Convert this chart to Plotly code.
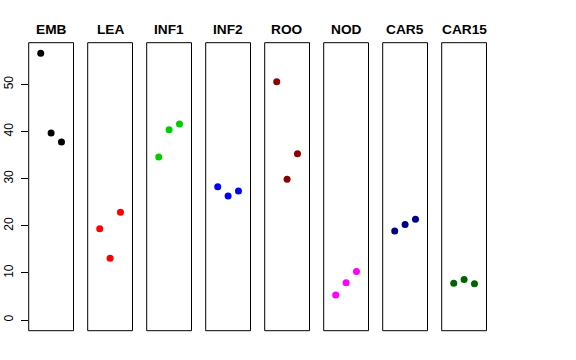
import plotly.graph_objects as go

panels = ["EMB", "LEA", "INF1", "INF2", "ROO", "NOD", "CAR5", "CAR15"]
colors = ["#000000", "#FF0000", "#00CD00", "#0000FF", "#8B0000", "#FF00FF", "#00008B", "#006400"]
positions = [1, 2, 3]
EMB = [56.6, 39.7, 37.8]
LEA = [19.4, 13.1, 22.9]
INF1 = [34.6, 40.4, 41.6]
INF2 = [28.3, 26.3, 27.4]
ROO = [50.6, 29.9, 35.3]
NOD = [5.3, 7.9, 10.3]
CAR5 = [18.9, 20.3, 21.4]
CAR15 = [7.8, 8.6, 7.7]
series = [EMB, LEA, INF1, INF2, ROO, NOD, CAR5, CAR15]
y_ticks = [0, 10, 20, 30, 40, 50]

W, H = 576, 360
left0, step, pw = 28.7, 59.0, 44.8
top, bottom = 42.7, 330.7

ymax = max(max(s) for s in series)
yr = [-0.04 * ymax, 1.04 * ymax]
xr = [-0.16, 4.16]

fig = go.Figure()
layout = dict(
    width=W, height=H, margin=dict(l=0, r=0, t=0, b=0, pad=0, autoexpand=False),
    paper_bgcolor="white", plot_bgcolor="white", showlegend=False,
    font=dict(family="Liberation Sans, Arial, sans-serif", color="black"),
)
ydom = [1 - bottom / H, 1 - top / H]
shapes = []
annotations = []
for i, (name, vals, col) in enumerate(zip(panels, series, colors)):
    xl = left0 + i * step
    xd = [xl / W, (xl + pw) / W]
    ax = "x" if i == 0 else f"x{i+1}"
    key = "xaxis" if i == 0 else f"xaxis{i+1}"
    layout[key] = dict(domain=xd, range=xr, visible=False, anchor="y", fixedrange=True,
                       automargin=False)
    fig.add_trace(go.Scatter(
        x=positions, y=vals, mode="markers", xaxis=ax, yaxis="y",
        marker=dict(color=col, size=7, line=dict(width=0)), hoverinfo="skip"))
    shapes.append(dict(type="rect", xref="paper", yref="paper",
                       x0=xd[0], x1=xd[1], y0=ydom[0], y1=ydom[1],
                       line=dict(color="#000000", width=1)))
    annotations.append(dict(text=f"<b>{name}</b>", xref="paper", yref="paper",
                            x=(xd[0] + xd[1]) / 2, y=1 - 29.3 / H, showarrow=False,
                            xanchor="center", yanchor="middle",
                            font=dict(size=13.7, color="black")))
layout["yaxis"] = dict(domain=ydom, range=yr, anchor="x", showgrid=False, zeroline=False,
                       tickvals=y_ticks, ticks="outside", ticklen=7, tickcolor="black",
                       tickangle=-90, tickfont=dict(size=12, color="black"),
                       showline=False, fixedrange=True, ticklabelstandoff=3,
                       automargin=False)
layout["shapes"] = shapes
layout["annotations"] = annotations
fig.update_layout(**layout)
fig.write_html("out.html", config={"displayModeBar": False},
               post_script="document.body.style.margin='0';document.body.style.overflow='hidden';")
